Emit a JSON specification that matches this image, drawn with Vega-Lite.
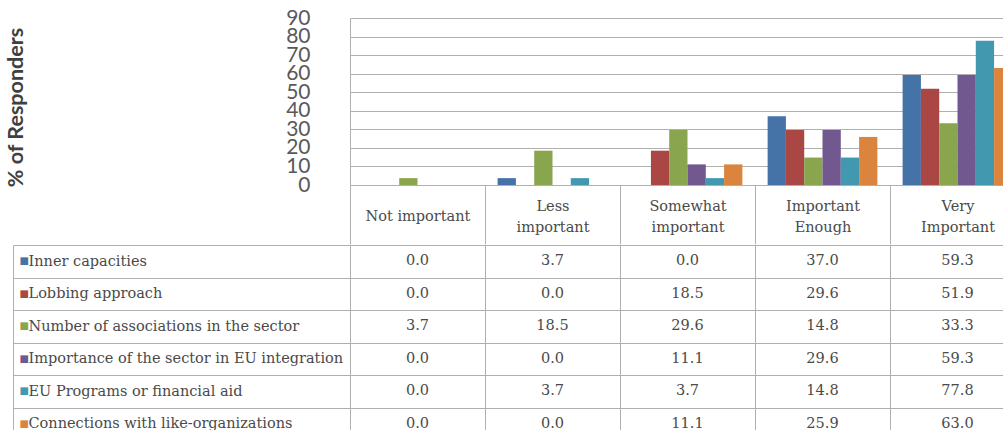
{
  "$schema": "https://vega.github.io/schema/vega-lite/v6.json",
  "padding": {"left": 5, "top": 7, "right": 0, "bottom": 0},
  "background": "white",
  "spacing": -9,
  "config": {"view": {"stroke": null}},
  "data": {"values": [
    {"category": "Not important", "series": "Inner capacities", "value": 0.0},
    {"category": "Less important", "series": "Inner capacities", "value": 3.7},
    {"category": "Somewhat important", "series": "Inner capacities", "value": 0.0},
    {"category": "Important Enough", "series": "Inner capacities", "value": 37.0},
    {"category": "Very Important", "series": "Inner capacities", "value": 59.3},
    {"category": "Not important", "series": "Lobbing approach", "value": 0.0},
    {"category": "Less important", "series": "Lobbing approach", "value": 0.0},
    {"category": "Somewhat important", "series": "Lobbing approach", "value": 18.5},
    {"category": "Important Enough", "series": "Lobbing approach", "value": 29.6},
    {"category": "Very Important", "series": "Lobbing approach", "value": 51.9},
    {"category": "Not important", "series": "Number of associations in the sector", "value": 3.7},
    {"category": "Less important", "series": "Number of associations in the sector", "value": 18.5},
    {"category": "Somewhat important", "series": "Number of associations in the sector", "value": 29.6},
    {"category": "Important Enough", "series": "Number of associations in the sector", "value": 14.8},
    {"category": "Very Important", "series": "Number of associations in the sector", "value": 33.3},
    {"category": "Not important", "series": "Importance of the sector in EU integration", "value": 0.0},
    {"category": "Less important", "series": "Importance of the sector in EU integration", "value": 0.0},
    {"category": "Somewhat important", "series": "Importance of the sector in EU integration", "value": 11.1},
    {"category": "Important Enough", "series": "Importance of the sector in EU integration", "value": 29.6},
    {"category": "Very Important", "series": "Importance of the sector in EU integration", "value": 59.3},
    {"category": "Not important", "series": "EU Programs or financial aid", "value": 0.0},
    {"category": "Less important", "series": "EU Programs or financial aid", "value": 3.7},
    {"category": "Somewhat important", "series": "EU Programs or financial aid", "value": 3.7},
    {"category": "Important Enough", "series": "EU Programs or financial aid", "value": 14.8},
    {"category": "Very Important", "series": "EU Programs or financial aid", "value": 77.8},
    {"category": "Not important", "series": "Connections with like-organizations", "value": 0.0},
    {"category": "Less important", "series": "Connections with like-organizations", "value": 0.0},
    {"category": "Somewhat important", "series": "Connections with like-organizations", "value": 11.1},
    {"category": "Important Enough", "series": "Connections with like-organizations", "value": 25.9},
    {"category": "Very Important", "series": "Connections with like-organizations", "value": 63.0}
  ]},
  "vconcat": [
    {
      "width": 653,
      "height": 167,
      "mark": {"type": "bar", "clip": true},
      "encoding": {
        "x": {
          "field": "category", "type": "nominal",
          "sort": ["Not important", "Less important", "Somewhat important", "Important Enough", "Very Important"],
          "scale": {"range": [0, 675], "paddingInner": 0, "paddingOuter": 0},
          "axis": {
            "title": null, "orient": "bottom", "domain": false,
            "ticks": true, "tickBand": "extent", "tickSize": 59, "tickColor": "#b0b0b0",
            "labelAngle": 0, "labelFont": "DejaVu Serif", "labelFontSize": 14.5, "labelColor": "#4a4a4a",
            "labelBaseline": "middle", "labelLineHeight": 21, "labelOverlap": false,
            "labelPadding": {"condition": {"test": "datum.value === 'Not important'", "value": -28}, "value": -38},
            "labelExpr": "isString(datum.value) ? (datum.value === 'Not important' ? datum.value : split(datum.value, ' ')) : ''"
          }
        },
        "xOffset": {
          "field": "series", "type": "nominal",
          "sort": ["Inner capacities", "Lobbing approach", "Number of associations in the sector", "Importance of the sector in EU integration", "EU Programs or financial aid", "Connections with like-organizations"],
          "scale": {"paddingInner": 0, "paddingOuter": 0.69}
        },
        "y": {
          "field": "value", "type": "quantitative",
          "scale": {"domain": [0, 90], "nice": false},
          "axis": {
            "values": [0, 10, 20, 30, 40, 50, 60, 70, 80, 90],
            "title": "% of Responders", "titleFont": "Lato", "titleFontSize": 21.5, "titleFontWeight": "bold",
            "titleColor": "#404040", "titlePadding": 258, "titleY": 89,
            "grid": true, "gridColor": "#b0b0b0", "domain": true, "domainColor": "#b0b0b0",
            "ticks": false,
            "labelFont": "Lato", "labelFontSize": 21, "labelColor": "#595959", "labelPadding": 40,
            "labelOverlap": false
          }
        },
        "color": {
          "field": "series", "type": "nominal",
          "scale": {
            "domain": ["Inner capacities", "Lobbing approach", "Number of associations in the sector", "Importance of the sector in EU integration", "EU Programs or financial aid", "Connections with like-organizations"],
            "range": ["#4572A7", "#AA4643", "#89A54E", "#71588F", "#4198AF", "#DB843D"]
          },
          "legend": null
        }
      }
    },
    {
      "width": 653,
      "height": 195,
      "resolve": {"axis": {"y": "independent"}},
      "layer": [
        {
          "mark": {"type": "text", "font": "DejaVu Serif", "fontSize": 14.5, "color": "#4a4a4a", "clip": true},
          "encoding": {
            "x": {
              "field": "category", "type": "nominal",
              "sort": ["Not important", "Less important", "Somewhat important", "Important Enough", "Very Important"],
              "scale": {"range": [0, 675], "paddingInner": 0, "paddingOuter": 0},
              "axis": {"title": null, "orient": "bottom", "labels": false, "ticks": false, "domain": false,
                       "grid": true, "tickBand": "extent", "gridColor": "#b0b0b0"}
            },
            "y": {
              "field": "series", "type": "nominal",
              "sort": ["Inner capacities", "Lobbing approach", "Number of associations in the sector", "Importance of the sector in EU integration", "EU Programs or financial aid", "Connections with like-organizations"],
              "scale": {"paddingInner": 0, "paddingOuter": 0},
              "axis": {
                "title": null, "orient": "left", "domain": true, "domainColor": "#b0b0b0",
                "ticks": true, "tickBand": "extent", "tickSize": 337, "tickColor": "#b0b0b0",
                "grid": true, "gridColor": "#b0b0b0",
                "labelAlign": "left", "labelPadding": -15, "labelFont": "DejaVu Serif", "labelFontSize": 14.5,
                "labelColor": "#4a4a4a", "labelBaseline": "middle", "labelLimit": 400, "labelOverlap": false
              }
            },
            "text": {"field": "value", "type": "quantitative", "format": ".1f"}
          }
        },
        {
          "mark": {"type": "point", "opacity": 0},
          "encoding": {
            "y": {
              "field": "series", "type": "nominal",
              "sort": ["Inner capacities", "Lobbing approach", "Number of associations in the sector", "Importance of the sector in EU integration", "EU Programs or financial aid", "Connections with like-organizations"],
              "axis": {
                "title": null, "orient": "left", "offset": 337, "domain": true, "domainColor": "#b0b0b0",
                "ticks": false, "grid": false,
                "labelExpr": "'■'", "labelAlign": "left", "labelPadding": -6, "labelFont": "DejaVu Sans",
                "labelFontSize": 10, "labelBaseline": "middle", "labelOverlap": false,
                "labelColor": {
                  "condition": [
                    {"test": "datum.value === 'Inner capacities'", "value": "#4572A7"},
                    {"test": "datum.value === 'Lobbing approach'", "value": "#AA4643"},
                    {"test": "datum.value === 'Number of associations in the sector'", "value": "#89A54E"},
                    {"test": "datum.value === 'Importance of the sector in EU integration'", "value": "#71588F"},
                    {"test": "datum.value === 'EU Programs or financial aid'", "value": "#4198AF"}
                  ],
                  "value": "#DB843D"
                }
              }
            }
          }
        }
      ]
    }
  ]
}
